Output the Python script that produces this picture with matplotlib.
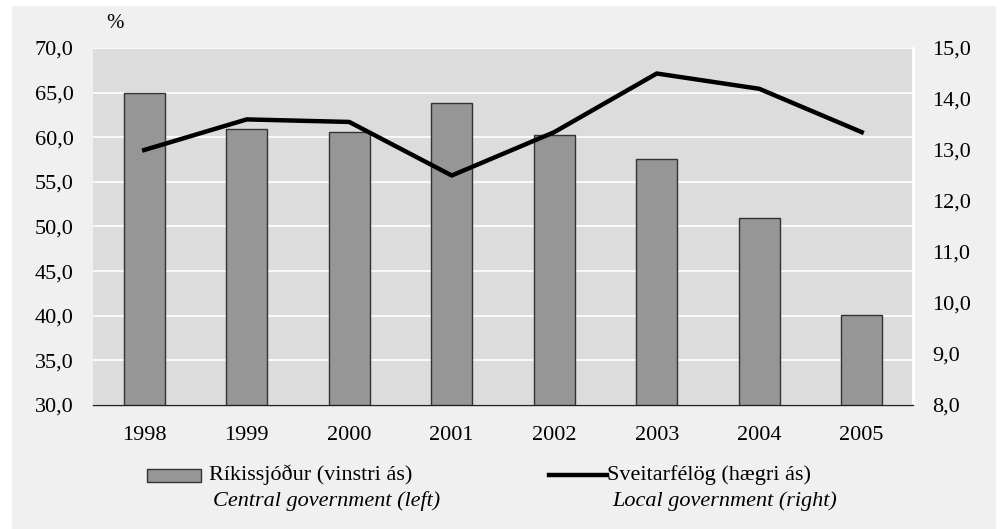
import matplotlib
matplotlib.use("Agg")
import matplotlib.pyplot as plt
from matplotlib.patches import Rectangle
from matplotlib.lines import Line2D

years = ["1998", "1999", "2000", "2001", "2002", "2003", "2004", "2005"]
central = [65.0, 60.9, 60.6, 63.8, 60.2, 57.6, 50.9, 40.1]
local = [13.0, 13.6, 13.55, 12.5, 13.35, 14.5, 14.2, 13.35]
left_ticks = [30, 35, 40, 45, 50, 55, 60, 65, 70]
right_ticks = [8, 9, 10, 11, 12, 13, 14, 15]

plt.rcParams['font.family'] = ['Liberation Serif', 'DejaVu Serif']
FS = 16
W, H = 1000, 529
fig = plt.figure(figsize=(W / 100, H / 100), dpi=100)
fig.patch.set_facecolor('white')
fig.patches.append(Rectangle((12 / W, 0.0), (996 - 12) / W, 1 - 6 / H,
                             transform=fig.transFigure, facecolor='#F0F0F0',
                             edgecolor='none', zorder=-10))

ax = fig.add_axes([93 / W, 1 - 405 / H, (913 - 93) / W, (405 - 48) / H])
ax.set_facecolor('#DCDCDC')
x = list(range(len(years)))
ax.bar(x, central, width=0.4, color='#969696', edgecolor='#333333', linewidth=1, zorder=3)
ax.set_ylim(30, 70)
ax.set_xlim(-0.5, len(years) - 0.5)
ax.set_yticks(left_ticks)
ax.set_yticklabels([f"{v:.1f}".replace('.', ',') for v in left_ticks], fontsize=FS)
ax.set_xticks(x)
ax.set_xticklabels(years, fontsize=FS)
ax.tick_params(axis='y', length=0, pad=14)
ax.tick_params(axis='x', length=0, pad=15)
ax.grid(axis='y', color='white', linewidth=1.2, zorder=1)
for s in ax.spines.values():
    s.set_visible(False)
ax.spines['right'].set_visible(True)
ax.spines['right'].set_color('white')
ax.spines['right'].set_linewidth(2)
ax.spines['bottom'].set_visible(True)
ax.spines['bottom'].set_color('#222222')
ax.spines['bottom'].set_linewidth(1)
ax.spines['bottom'].set_zorder(5)

ax2 = ax.twinx()
ax2.plot(x, local, color='black', linewidth=3.2, zorder=4)
ax2.set_ylim(8, 15)
ax2.set_yticks(right_ticks)
ax2.set_yticklabels([f"{v:.1f}".replace('.', ',') for v in right_ticks], fontsize=FS)
ax2.tick_params(length=0, pad=14)
for s in ax2.spines.values():
    s.set_visible(False)

fig.text(115 / W, 1 - 24 / H, "%", fontsize=FS - 1, ha='center', va='center')

# legend
fig.patches.append(Rectangle((147 / W, 1 - 482 / H), 54 / W, 13 / H, transform=fig.transFigure,
                             facecolor='#969696', edgecolor='#333333', linewidth=1))
fig.text(209 / W, 1 - 475 / H, "Ríkissjóður (vinstri ás)", fontsize=FS, va='center', ha='left')
fig.text(213 / W, 1 - 501 / H, "Central government (left)", fontsize=FS, va='center', ha='left', style='italic')
fig.lines.append(Line2D([549 / W, 607 / W], [1 - 475 / H, 1 - 475 / H], transform=fig.transFigure,
                        color='black', linewidth=3.2))
fig.text(607 / W, 1 - 475 / H, "Sveitarfélög (hægri ás)", fontsize=FS, va='center', ha='left')
fig.text(612 / W, 1 - 501 / H, "Local government (right)", fontsize=FS, va='center', ha='left', style='italic')

fig.savefig("out.png", dpi=100, facecolor=fig.get_facecolor())
